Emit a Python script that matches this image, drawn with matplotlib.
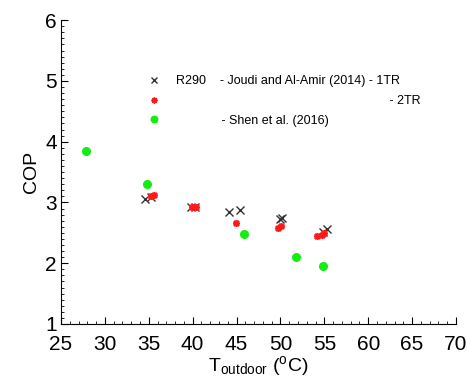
import matplotlib
matplotlib.use("Agg")
import matplotlib.pyplot as plt
from matplotlib.ticker import MultipleLocator

plt.rcParams['font.family'] = ['Liberation Sans', 'DejaVu Sans']
plt.rcParams['mathtext.default'] = 'regular'

# Joudi and Al-Amir (2014) - 1TR
t_1tr = [34.6, 35.3, 39.8, 40.3, 44.1, 45.4, 50.0, 50.2, 54.8, 55.3]
cop_1tr = [3.06, 3.09, 2.93, 2.93, 2.84, 2.87, 2.72, 2.75, 2.52, 2.57]

# Joudi and Al-Amir (2014) - 2TR
t_2tr = [35.2, 35.6, 39.9, 40.4, 44.9, 49.7, 50.1, 54.2, 54.7, 55.0]
cop_2tr = [3.10, 3.13, 2.92, 2.92, 2.67, 2.58, 2.62, 2.45, 2.47, 2.49]

# Shen et al. (2016)
t_shen = [27.8, 34.8, 45.9, 51.8, 54.8]
cop_shen = [3.85, 3.30, 2.48, 2.11, 1.95]

lab_1tr = "R290    - Joudi and Al-Amir (2014) - 1TR"
lab_2tr = " " * 61 + "- 2TR"
lab_shen = " " * 13 + "- Shen et al. (2016)"

fig, ax = plt.subplots(figsize=(4.67, 3.8), dpi=100)
fig.subplots_adjust(left=0.1306, right=0.9764, bottom=0.1474, top=0.947)

ax.plot(t_1tr, cop_1tr, linestyle='none', marker='x', color='#333333',
        ms=5.5, mew=1.0, label=lab_1tr)
ax.plot(t_2tr, cop_2tr, linestyle='none', marker=(8, 2, 0), color='#ff1a1a',
        ms=5, mew=1.2, label=lab_2tr)
ax.plot(t_shen, cop_shen, linestyle='none', marker='o', color='#11ee11',
        ms=5.5, mec='#11ee11', label=lab_shen)

ax.set_xlim(25, 70)
ax.set_ylim(1, 6)
ax.xaxis.set_major_locator(MultipleLocator(5))
ax.xaxis.set_minor_locator(MultipleLocator(1))
ax.yaxis.set_major_locator(MultipleLocator(1))
ax.yaxis.set_minor_locator(MultipleLocator(0.1))

ax.spines['top'].set_visible(False)
ax.spines['right'].set_visible(False)
ax.tick_params(which='both', direction='in', labelsize=15)
ax.tick_params(which='major', length=5)
ax.tick_params(which='minor', length=2.5)
ax.tick_params(axis='x', pad=8)
ax.tick_params(axis='y', pad=3)

ax.set_ylabel("COP", fontsize=14, labelpad=4)
ax.set_xlabel(r"T$_{outdoor}$ ($^{o}$C)", fontsize=14, labelpad=0)

ax.legend(loc='upper left', bbox_to_anchor=(0.19, 0.835), frameon=False,
          fontsize=9, numpoints=1, labelspacing=0.62, handletextpad=0.8,
          markerscale=0.85, borderaxespad=0)

fig.savefig("out.png", dpi=100)
